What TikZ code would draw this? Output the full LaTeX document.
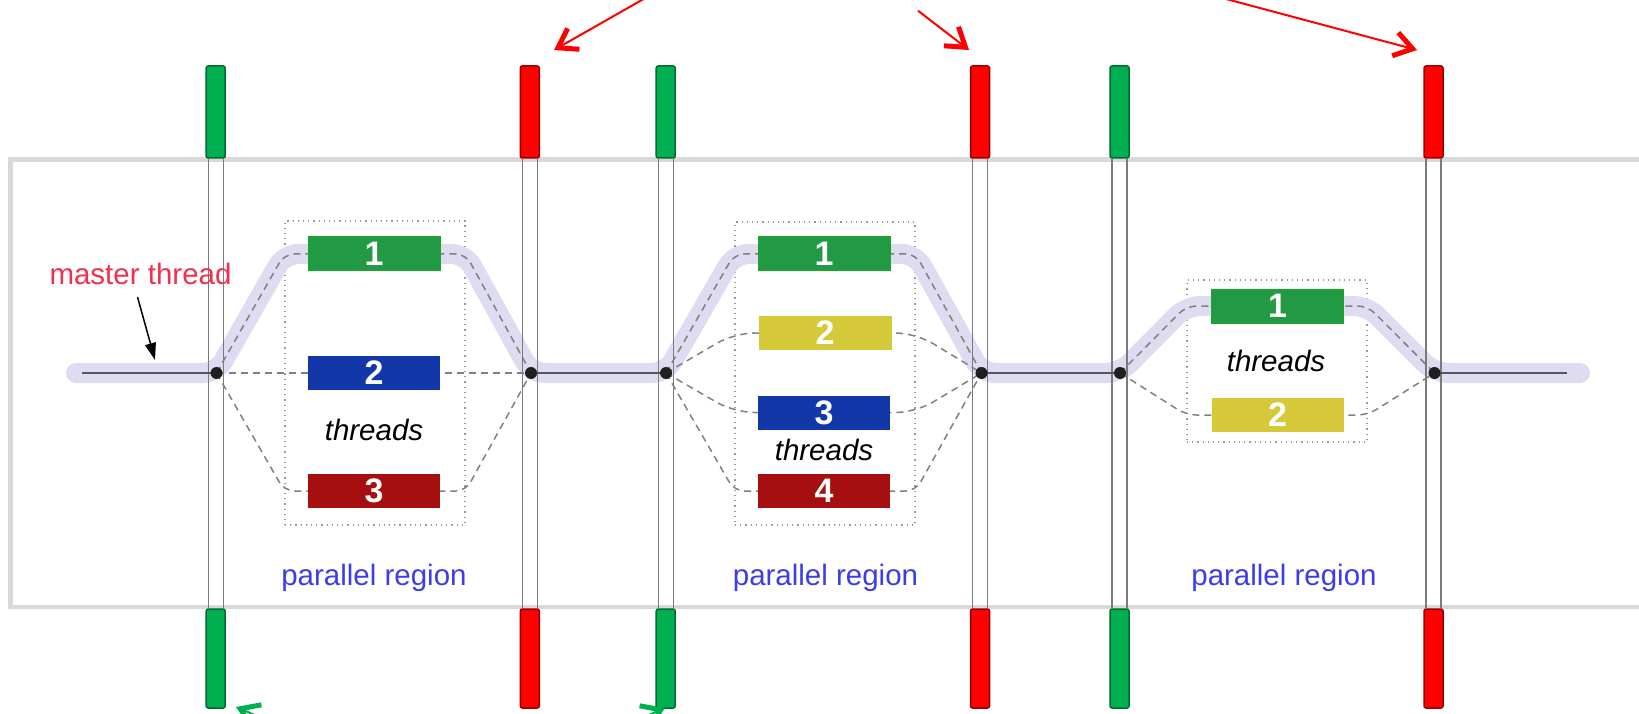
\documentclass[tikz,border=0pt]{standalone}
\usepackage{fontspec}
\setmainfont{Liberation Sans}
\usetikzlibrary{arrows.meta}
\definecolor{outerc}{HTML}{D9D9D9}
\definecolor{vlinec}{HTML}{7A7A7A}
\definecolor{lavc}{HTML}{DEDCF0}
\definecolor{masterc}{HTML}{55556A}
\definecolor{dashc}{HTML}{808080}
\definecolor{framec}{HTML}{9A9A9A}
\definecolor{greenbar}{HTML}{00B050}
\definecolor{greenbard}{HTML}{006B30}
\definecolor{redbar}{HTML}{FF0000}
\definecolor{redbard}{HTML}{9A0000}
\definecolor{tgreen}{HTML}{229A44}
\definecolor{tgreenb}{HTML}{14AA28}
\definecolor{tblue}{HTML}{1137A8}
\definecolor{tred}{HTML}{A60F10}
\definecolor{tyellow}{HTML}{D5C93A}
\definecolor{regblue}{HTML}{3C3CEC}
\definecolor{mastred}{HTML}{F2304C}
\definecolor{garrow}{HTML}{00B050}
\begin{document}
\begin{tikzpicture}[x=1pt,y=-1pt,
  gbar/.style={draw=greenbard,fill=greenbar,line width=1.5pt,rounded corners=2pt,minimum width=19pt,inner sep=0pt},
  rbar/.style={draw=redbard,fill=redbar,line width=1.5pt,rounded corners=2pt,minimum width=19pt,inner sep=0pt},
  topbar/.style={minimum height=92pt},
  botbar/.style={minimum height=99pt},
  vline/.style={draw=vlinec,line width=1.3pt},
  outerbox/.style={draw=outerc,line width=4.5pt},
  lav/.style={draw=lavc,line width=20pt,line cap=round,rounded corners=14pt},
  master/.style={draw=masterc,line width=2.2pt},
  thr/.style={draw=dashc,line width=1.5pt,dash pattern=on 7pt off 5pt,rounded corners=10pt},
  frame/.style={draw=framec,line width=1.2pt,dash pattern=on 1.2pt off 4pt,minimum width=180pt,inner sep=0pt},
  tbox/.style={minimum width=132pt,minimum height=34pt,inner sep=0pt,text=white,font=\fontsize{34}{34}\selectfont\bfseries},
  dotn/.style={circle,fill=black!88,minimum size=12pt,inner sep=0pt},
  lbl/.style={font=\fontsize{29.5}{30}\selectfont,inner sep=0pt,anchor=base},
  redarr/.style={draw=red,line width=2pt,-{Straight Barb[length=18pt,width=24pt,line width'=5pt]}},
  grnarr/.style={draw=garrow,line width=2pt,-{Straight Barb[length=18pt,width=24pt,line width'=5pt]}}
]
\useasboundingbox (0,0) rectangle (1639,714);
\clip (0,0) rectangle (1639,714);

% outer box
\draw[outerbox] (10.5,159.5) rectangle (1670,607);

% bars
\node[gbar,topbar] (t1) at (215.7,112) {};
\node[rbar,topbar] (t2) at (529.8,112) {};
\node[gbar,topbar] (t3) at (665.7,112) {};
\node[rbar,topbar] (t4) at (980,112) {};
\node[gbar,topbar] (t5) at (1119.5,112) {};
\node[rbar,topbar] (t6) at (1433.5,112) {};
\node[gbar,botbar] (u1) at (215.7,658.5) {};
\node[rbar,botbar] (u2) at (529.8,658.5) {};
\node[gbar,botbar] (u3) at (665.7,658.5) {};
\node[rbar,botbar] (u4) at (980,658.5) {};
\node[gbar,botbar] (u5) at (1119.5,658.5) {};
\node[rbar,botbar] (u6) at (1433.5,658.5) {};

% frames, dots, coordinates
\node[frame,minimum height=304pt] (fr1) at (375,373) {};
\node[frame,minimum height=303pt] (fr2) at (825,373.5) {};
\node[frame,minimum height=162pt] (fr3) at (1277,361) {};

\coordinate (d1c) at (216.5,373);
\coordinate (d2c) at (531,373);
\coordinate (d3c) at (666,373);
\coordinate (d4c) at (981.5,373);
\coordinate (d5c) at (1120,373);
\coordinate (d6c) at (1434.5,373);
\coordinate (mstart) at (76,373);
\coordinate (mend) at (1580,373);
\coordinate (lstart) at (82,373);
\coordinate (lend) at (1567,373);

% thread box positions
\coordinate (p11) at (374,254);
\coordinate (p12) at (374,373);
\coordinate (p13) at (374,491);
\coordinate (p21) at (824,254);
\coordinate (p22) at (825,333);
\coordinate (p23) at (824,412.5);
\coordinate (p24) at (824,491);
\coordinate (p31) at (1277.5,306);
\coordinate (p32) at (1277.5,415);

% lavender master path
\draw[lav] (mstart) -- (d1c) -- (fr1.west |- p11) -- (fr1.east |- p11) -- (d2c) -- (d3c)
  -- (fr2.west |- p21) -- (fr2.east |- p21) -- (d4c) -- (d5c)
  -- (fr3.west |- p31) -- (fr3.east |- p31) -- (d6c) -- (mend);

% vertical double lines
\foreach \a/\b in {t1/u1,t2/u2,t3/u3,t4/u4,t5/u5,t6/u6}{
  \draw[vline] ([xshift=-7.5pt]\a.south) -- ([xshift=-7.5pt]\b.north);
  \draw[vline] ([xshift=7.5pt]\a.south) -- ([xshift=7.5pt]\b.north);
}

% master solid segments
\draw[master] (lstart) -- (d1c);
\draw[master] (d2c) -- (d3c);
\draw[master] (d4c) -- (d5c);
\draw[master] (d6c) -- (lend);

% dashed thread paths
\draw[thr] (d1c) -- (fr1.west |- p11) -- (fr1.east |- p11) -- (d2c);
\draw[thr] (d1c) -- (d2c);
\draw[thr] (d1c) -- (fr1.west |- p13) -- (fr1.east |- p13) -- (d2c);
\draw[thr] (d3c) -- (fr2.west |- p21) -- (fr2.east |- p21) -- (d4c);
\draw[thr,rounded corners=20pt] (d3c) -- (fr2.west |- p22) -- (fr2.east |- p22) -- (d4c);
\draw[thr,rounded corners=20pt] (d3c) -- (fr2.west |- p23) -- (fr2.east |- p23) -- (d4c);
\draw[thr] (d3c) -- (fr2.west |- p24) -- (fr2.east |- p24) -- (d4c);
\draw[thr] (d5c) -- (fr3.west |- p31) -- (fr3.east |- p31) -- (d6c);
\draw[thr] (d5c) -- (fr3.west |- p32) -- (fr3.east |- p32) -- (d6c);

% thread boxes
\node[tbox,fill=tgreen,draw=tgreenb,line width=1pt] (b11) at (p11) {1};
\node[tbox,fill=tblue] (b12) at (p12) {2};
\node[tbox,fill=tred] (b13) at (p13) {3};
\node[tbox,fill=tgreen,draw=tgreenb,line width=1pt] (b21) at (p21) {1};
\node[tbox,fill=tyellow,minimum width=133pt] (b22) at (p22) {2};
\node[tbox,fill=tblue] (b23) at (p23) {3};
\node[tbox,fill=tred] (b24) at (p24) {4};
\node[tbox,fill=tgreen,draw=tgreenb,line width=1pt] (b31) at (p31) {1};
\node[tbox,fill=tyellow] (b32) at (p32) {2};

% dots
\node[dotn] (d1) at (d1c) {};
\node[dotn] (d2) at (d2c) {};
\node[dotn] (d3) at (d3c) {};
\node[dotn] (d4) at (d4c) {};
\node[dotn] (d5) at (d5c) {};
\node[dotn] (d6) at (d6c) {};

% labels
\node[lbl,font=\fontsize{29.5}{30}\selectfont\itshape] (th1) at (374,440) {threads};
\node[lbl,font=\fontsize{29.5}{30}\selectfont\itshape] (th2) at (824,460) {threads};
\node[lbl,font=\fontsize{29.5}{30}\selectfont\itshape] (th3) at (1276,371) {threads};
\node[lbl,text=regblue] (pr1) at (374,585) {parallel region};
\node[lbl,text=regblue] (pr2) at (825.5,585) {parallel region};
\node[lbl,text=regblue] (pr3) at (1284,585) {parallel region};
\node[lbl,text=mastred] (mt) at (140.5,284) {master thread};

% master thread arrow
\coordinate (ma1) at (137.5,297);
\coordinate (ma2) at (155,360);
\draw[line width=1.5pt,-{Triangle[length=17pt,width=11pt]}] (ma1) -- (ma2);

% red arrows from the cut-off label above
\coordinate (ra1s) at (677,-20);
\coordinate (ra1e) at (554,50);
\coordinate (ra2s) at (918,10.7);
\coordinate (ra2e) at (969,50);
\coordinate (ra3s) at (1155,-20);
\coordinate (ra3e) at (1417,50);
\draw[redarr] (ra1s) -- (ra1e);
\draw[redarr] (ra2s) -- (ra2e);
\draw[redarr] (ra3s) -- (ra3e);

% green arrows from the cut-off label below
\coordinate (ga1s) at (386,771);
\coordinate (ga1e) at (236,707);
\coordinate (ga2s) at (515,772);
\coordinate (ga2e) at (665,708);
\draw[grnarr] (ga1s) -- (ga1e);
\draw[grnarr] (ga2s) -- (ga2e);
\end{tikzpicture}
\end{document}
